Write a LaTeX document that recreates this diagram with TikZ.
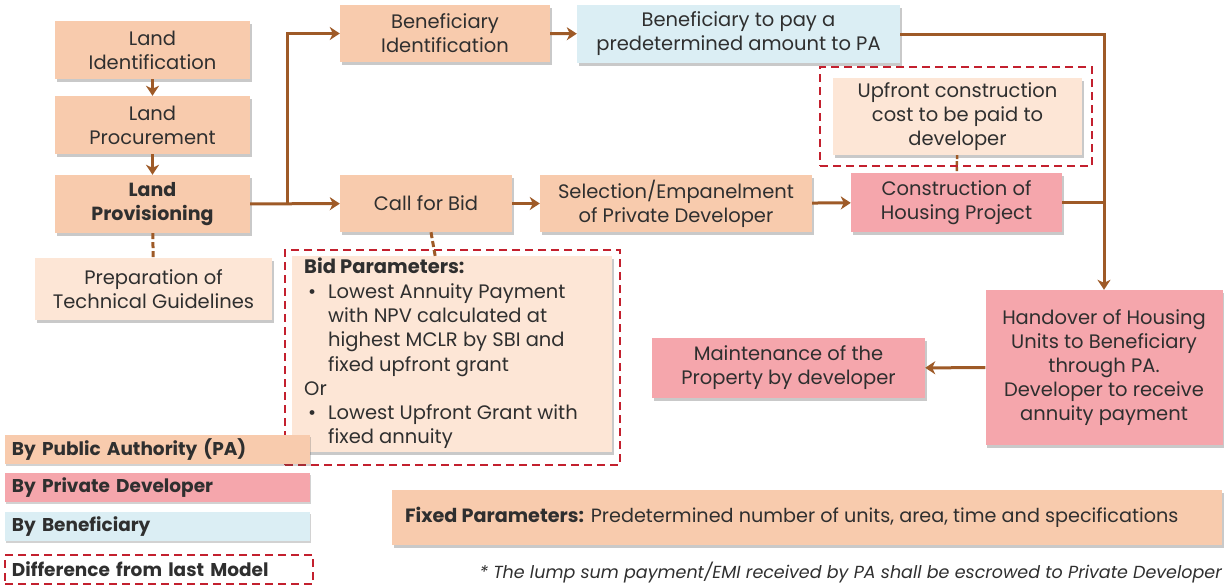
\documentclass[tikz,border=0pt]{standalone}
\usepackage{fontspec}
\setmainfont{Poppins}
\usetikzlibrary{arrows.meta,shadows,positioning}
\definecolor{peach}{HTML}{F8CBAD}
\definecolor{lpeach}{HTML}{FDE6D6}
\definecolor{pinkd}{HTML}{F5A6AC}
\definecolor{blued}{HTML}{DBEEF4}
\definecolor{brownl}{HTML}{9E5A27}
\definecolor{redd}{HTML}{C3202E}
\definecolor{txt}{HTML}{2F2F2F}
\tikzset{
  box/.style={inner sep=0pt, align=center, text=txt, font=\fontsize{19.5}{24}\selectfont,
    drop shadow={shadow xshift=1.5pt,shadow yshift=-2.5pt,opacity=0.3,fill=black!70}},
  pa/.style={box, fill=peach},
  lpa/.style={box, fill=lpeach},
  pd/.style={box, fill=pinkd},
  bn/.style={box, fill=blued},
  flow/.style={draw=brownl, line width=3pt, -{Stealth[length=10pt,width=13pt,inset=3pt]}},
  plain/.style={draw=brownl, line width=3pt},
  dlink/.style={draw=brownl, line width=3pt, dash pattern=on 6pt off 3pt},
  reddash/.style={draw=redd, line width=2pt, dash pattern=on 8pt off 5pt, inner sep=0pt},
  leg/.style={inner sep=0pt, text=txt, font=\fontsize{18.5}{22}\selectfont\bfseries, minimum width=305pt, minimum height=29pt, text width=291pt, align=left,
    drop shadow={shadow xshift=1pt,shadow yshift=-2pt,opacity=0.25,fill=black!70}},
}
\begin{document}
\begin{tikzpicture}[x=1pt,y=-1pt]
\useasboundingbox (0,0) rectangle (1226,584);
% left column
\node[pa, minimum width=195pt, minimum height=58pt] (li) at (152.5,50) {Land\\Identification};
\node[pa, minimum width=195pt, minimum height=58pt] (lp) at (152.5,125) {Land\\Procurement};
\node[pa, minimum width=195pt, minimum height=58pt, font=\fontsize{19}{24}\selectfont\bfseries] (lv) at (152.5,204) {Land\\Provisioning};
\node[lpa, minimum width=237pt, minimum height=62pt] (prep) at (153.5,289) {Preparation of\\Technical Guidelines};
% top row
\node[pa, minimum width=210pt, minimum height=57pt] (bi) at (445,33.5) {Beneficiary\\Identification};
\node[bn, minimum width=323pt, minimum height=58pt] (bp) at (738.5,34) {Beneficiary to pay a\\predetermined amount to PA};
% middle row
\node[pa, minimum width=172pt, minimum height=57pt] (cfb) at (426,203.5) {Call for Bid};
\node[pa, minimum width=272pt, minimum height=57pt] (sel) at (676,203.5) {Selection/Empanelment\\of Private Developer};
\node[pd, minimum width=211pt, minimum height=59pt] (con) at (956.5,202.5) {Construction of\\Housing Project};
% upfront
\node[lpa, minimum width=249pt, minimum height=77pt] (up) at (957.5,116.5) {Upfront construction\\cost to be paid to\\developer};
\node[reddash, minimum width=272pt, minimum height=99pt] (upd) at (956,116.5) {};
% bid parameters
\node[lpa, minimum width=320pt, minimum height=196pt, anchor=north west] (bid) at (292,256) {};
\node[anchor=north west, inner sep=0pt, text=txt, font=\fontsize{19.5}{24.3}\selectfont, align=left] (bidt) at (304,258)
 {\textbf{Bid Parameters:}\\
  \makebox[24pt][l]{\hspace{4pt}•}Lowest Annuity Payment\\
  \hspace*{24pt}with NPV calculated at\\
  \hspace*{24pt}highest MCLR by SBI and\\
  \hspace*{24pt}fixed upfront grant\\
  Or\\
  \makebox[24pt][l]{\hspace{4pt}•}Lowest Upfront Grant with\\
  \hspace*{24pt}fixed annuity};
\node[reddash, minimum width=335pt, minimum height=215pt] (bidd) at (452.5,357.5) {};
% handover & maintenance
\node[pd, minimum width=237pt, minimum height=155pt] (hand) at (1104,367.5) {Handover of Housing\\Units to Beneficiary\\through PA.\\Developer to receive\\annuity payment};
\node[pd, minimum width=273pt, minimum height=60pt] (mnt) at (788.5,368) {Maintenance of the\\Property by developer};
% legend
\node[leg, fill=peach] (l1) at (157.5,449) {By Public Authority (PA)};
\node[leg, fill=pinkd] (l2) at (157.5,487.5) {By Private Developer};
\node[leg, fill=blued] (l3) at (157.5,526.5) {By Beneficiary};
\node[reddash, minimum width=308pt, minimum height=29pt, text width=294pt, align=left, text=txt, font=\fontsize{18.5}{22}\selectfont\bfseries] (l4) at (159,569.5) {Difference from last Model};
% fixed parameters
\node[pa, minimum width=830pt, minimum height=55pt] (fix) at (807,517.5) {};
\node[anchor=west, inner sep=0pt, text=txt, font=\fontsize{19.2}{22}\selectfont] (fixt) at (405,517.5) {\textbf{Fixed Parameters:} Predetermined number of units, area, time and specifications};
\node[anchor=east, inner sep=0pt, text=txt, font=\fontsize{17.5}{20}\selectfont\itshape] (note) at (1222,573) {* The lump sum payment/EMI received by PA shall be escrowed to Private Developer};
% connectors
\coordinate (br) at (287,204);
\draw[flow] (li) -- (lp);
\draw[flow] (lp) -- (lv);
\draw[dlink] (lv) -- (prep);
\draw[flow] (lv) -- (cfb);
\draw[flow] (br) |- (bi);
\draw[flow] (bi) -- (bp);
\draw[flow] (cfb) -- (sel);
\draw[flow] (sel) -- (con);
\draw[flow] (bp.east) -| (hand.north);
\draw[plain] (con.east) -- (con.east -| hand.north);
\draw[dlink, line width=2.5pt, dash pattern=on 4pt off 2pt] (up) -- (con);
\draw[dlink] (cfb) -- (bid);
\draw[flow] (hand) -- (mnt);
\end{tikzpicture}
\end{document}
